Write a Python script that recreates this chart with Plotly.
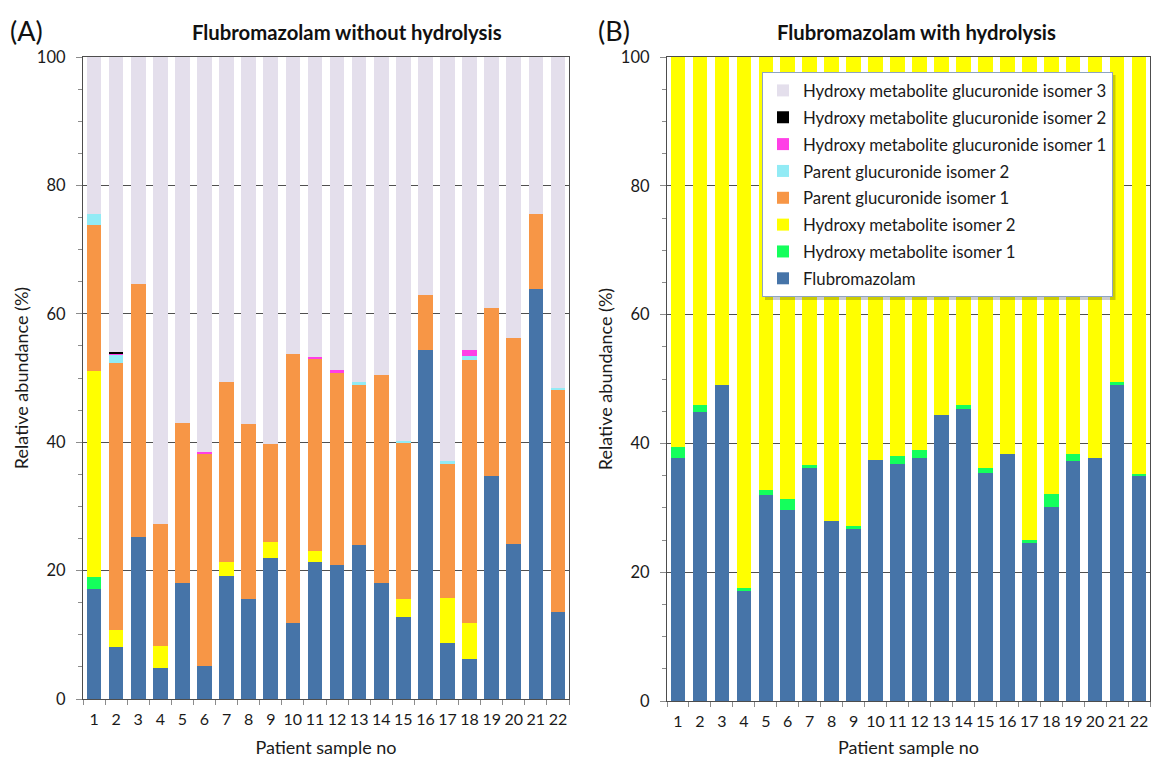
import plotly.graph_objects as go

samples = [str(i) for i in range(1, 23)]

series_names = [
    "Flubromazolam",
    "Hydroxy metabolite isomer 1",
    "Hydroxy metabolite isomer 2",
    "Parent glucuronide isomer 1",
    "Parent glucuronide isomer 2",
    "Hydroxy metabolite glucuronide isomer 1",
    "Hydroxy metabolite glucuronide isomer 2",
    "Hydroxy metabolite glucuronide isomer 3",
]
series_colors = ["#4674A8", "#14FF5C", "#FFFF00", "#F79646", "#92EBF5",
                 "#FF3FE6", "#000000", "#E4DFEC"]

# Panel A: without hydrolysis (segment values, %)
a_flubromazolam = [17.2, 8.1, 25.3, 4.9, 18.1, 5.2, 19.1, 15.5, 21.9, 11.8, 21.4,
                   20.9, 24.0, 18.1, 12.7, 54.3, 8.7, 6.3, 34.8, 24.1, 63.9, 13.6]
a_hydroxy_1 = [1.8, 0, 0, 0, 0, 0, 0, 0, 0, 0, 0,
               0, 0, 0, 0, 0, 0, 0, 0, 0, 0, 0]
a_hydroxy_2 = [32.1, 2.7, 0, 3.3, 0, 0, 2.2, 0, 2.5, 0, 1.6,
               0, 0, 0, 2.8, 0, 7.1, 5.6, 0, 0, 0, 0]
a_parent_gluc_1 = [22.8, 41.6, 39.4, 19.1, 24.9, 33.0, 28.1, 27.3, 15.3, 41.9, 30.0,
                   30.0, 24.9, 32.4, 24.3, 8.6, 20.8, 40.9, 26.1, 32.1, 11.6, 34.6]
a_parent_gluc_2 = [1.7, 1.2, 0, 0, 0, 0, 0, 0, 0, 0, 0,
                   0, 0.5, 0, 0.4, 0, 0.4, 0.7, 0, 0, 0, 0.2]
a_hm_gluc_1 = [0, 0.2, 0, 0, 0, 0.3, 0, 0, 0, 0, 0.3,
               0.3, 0, 0, 0, 0, 0, 0.9, 0, 0, 0, 0]
a_hm_gluc_2 = [0, 0.3, 0, 0, 0, 0, 0, 0, 0, 0, 0,
               0, 0, 0, 0, 0, 0, 0, 0, 0, 0, 0]
a_hm_gluc_3 = [24.4, 45.9, 35.3, 72.7, 57.0, 61.5, 50.6, 57.2, 60.3, 46.3, 46.7,
               48.8, 50.6, 49.5, 59.8, 37.1, 63.0, 45.6, 39.1, 43.8, 24.5, 51.6]

# Panel B: with hydrolysis (segment values, %)
b_flubromazolam = [37.8, 44.9, 49.0, 17.1, 32.0, 29.7, 36.2, 27.9, 26.7, 37.5, 36.8,
                   37.7, 44.4, 45.4, 35.4, 38.3, 24.6, 30.2, 37.2, 37.7, 49.2, 34.9]
b_hydroxy_1 = [1.6, 1.1, 0, 0.4, 0.7, 1.6, 0.5, 0, 0.5, 0, 1.3,
               1.3, 0, 0.6, 0.8, 0, 0.4, 2.0, 1.1, 0, 0.3, 0.4]
b_hydroxy_2 = [60.6, 54.0, 51.0, 82.5, 67.3, 68.7, 63.3, 72.1, 72.8, 62.5, 61.9,
               61.0, 55.6, 54.0, 63.8, 61.7, 75.0, 67.8, 61.7, 62.3, 50.5, 64.7]
zeros = [0] * 22

panel_a = [a_flubromazolam, a_hydroxy_1, a_hydroxy_2, a_parent_gluc_1,
           a_parent_gluc_2, a_hm_gluc_1, a_hm_gluc_2, a_hm_gluc_3]
panel_b = [b_flubromazolam, b_hydroxy_1, b_hydroxy_2, zeros,
           zeros, zeros, zeros, zeros]

FONT = "Lato"
TXT = "#1a1a1a"
W, H = 1151, 758

fig = go.Figure()
n = len(series_names)
for i, name in enumerate(series_names):
    fig.add_trace(go.Bar(
        x=samples, y=panel_a[i], name=name, marker_color=series_colors[i],
        marker_line_width=0, legendgroup=name, showlegend=False,
        xaxis="x", yaxis="y"))
for i, name in enumerate(series_names):
    fig.add_trace(go.Bar(
        x=samples, y=panel_b[i], name=name, marker_color=series_colors[i],
        marker_line_width=0, legendgroup=name, showlegend=True,
        legendrank=100 * (n - i),
        xaxis="x2", yaxis="y2"))

def px(x):
    return x / W

def py(y):
    return 1 - y / H

xcommon = dict(type="category", showline=True, linecolor="#4d4d4d", linewidth=1.3,
               mirror=True, ticks="outside", ticklen=5, tickcolor="#8c8c8c",
               tickson="boundaries", tickangle=0, ticklabelstandoff=6,
               tickfont=dict(family=FONT, size=16, color=TXT),
               automargin=False, showgrid=False, zeroline=False,
               title=dict(text="Patient sample no", font=dict(family=FONT, size=18, color=TXT),
                          standoff=14))
ycommon = dict(range=[0, 100], dtick=20, showline=True, linecolor="#4d4d4d", linewidth=1.3,
               mirror=True, ticks="outside", ticklen=6, tickcolor="#8c8c8c",
               ticklabelstandoff=7,
               minor=dict(dtick=5, ticks="outside", ticklen=4, tickcolor="#8c8c8c", showgrid=False),
               tickfont=dict(family=FONT, size=16.5, color=TXT), automargin=False,
               zeroline=False,
               showgrid=True, gridcolor="#505050", gridwidth=1.3,
               title=dict(text="Relative abundance (%)", font=dict(family=FONT, size=18, color=TXT),
                          standoff=3))

fig.update_layout(
    width=W, height=H,
    margin=dict(l=0, r=0, t=0, b=0),
    paper_bgcolor="white", plot_bgcolor="white",
    barmode="stack",
    bargap=0.335,
    font=dict(family=FONT, color=TXT),
    xaxis=dict(domain=[px(83), px(569)], anchor="y", **xcommon),
    yaxis=dict(domain=[py(699), py(57)], anchor="x", **ycommon),
    xaxis2=dict(domain=[px(667), px(1150)], anchor="y2", **xcommon),
    yaxis2=dict(domain=[py(701), py(57)], anchor="x2", **ycommon),
    legend=dict(x=px(762), y=py(72), xanchor="left", yanchor="top",
                bgcolor="white", bordercolor="#8EA4C2", borderwidth=1,
                font=dict(family=FONT, size=16.8, color=TXT),
                traceorder="grouped", tracegroupgap=2,
                itemwidth=30),
    shapes=[
        dict(type="rect", xref="paper", yref="paper", layer="above",
             x0=px(765), x1=px(1115.5), y0=py(300), y1=py(75),
             fillcolor="rgba(0,0,0,0.2)", line_width=0),
    ],
    annotations=[
        dict(text="<b>Flubromazolam without hydrolysis</b>", x=px(347), y=py(32),
             xref="paper", yref="paper", showarrow=False, xanchor="center", yanchor="middle",
             font=dict(family=FONT, size=20.3, color="#111111")),
        dict(text="<b>Flubromazolam with hydrolysis</b>", x=px(916), y=py(32),
             xref="paper", yref="paper", showarrow=False, xanchor="center", yanchor="middle",
             font=dict(family=FONT, size=20.3, color="#111111")),
        dict(text="(A)", x=px(8), y=py(31), xref="paper", yref="paper", showarrow=False,
             xanchor="left", yanchor="middle", font=dict(family=FONT, size=27, color="#111111")),
        dict(text="(B)", x=px(596), y=py(31), xref="paper", yref="paper", showarrow=False,
             xanchor="left", yanchor="middle", font=dict(family=FONT, size=27, color="#111111")),
    ],
)

fig.write_html("out.html", config={"displayModeBar": False},
               post_script="document.body.style.margin='0px';")
